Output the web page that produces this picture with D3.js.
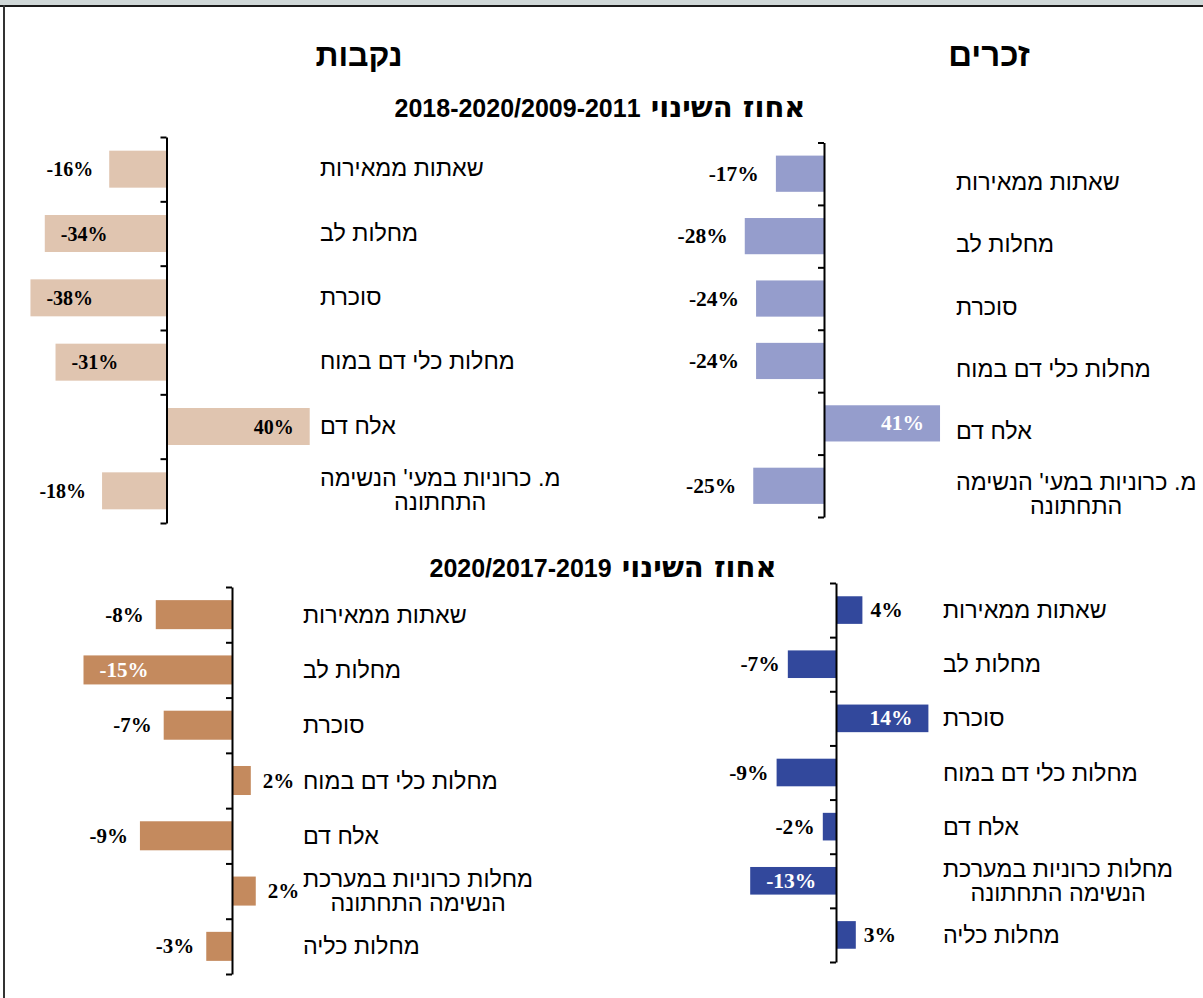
<!DOCTYPE html>
<html>
<head>
<meta charset="utf-8">
<script src="https://cdn.jsdelivr.net/npm/d3@7"></script>
<style>
  html, body { margin: 0; padding: 0; background: #fff; }
  svg { display: block; }
</style>
</head>
<body>
<svg id="chart" width="1203" height="998"></svg>
<script>
// ---------------- DATA ----------------
const titleFemales = "נקבות";
const titleMales = "זכרים";
const subtitleTopText = "אחוז השינוי";
const subtitleTopYears = "2018-2020/2009-2011";
const subtitleBottomText = "אחוז השינוי";
const subtitleBottomYears = "2020/2017-2019";

const categoriesTop = [
  "שאתות ממאירות",
  "מחלות לב",
  "סוכרת",
  "מחלות כלי דם במוח",
  "אלח דם",
  "מ. כרוניות במעי' הנשימה\nהתחתונה"
];
const categoriesBottom = [
  "שאתות ממאירות",
  "מחלות לב",
  "סוכרת",
  "מחלות כלי דם במוח",
  "אלח דם",
  "מחלות כרוניות במערכת\nהנשימה התחתונה",
  "מחלות כליה"
];

// percent change
const femalesTop = [-16, -34, -38, -31, 40, -18];
const malesTop = [-17, -28, -24, -24, 41, -25];
const femalesBottom = [-7.7, -15, -6.9, 1.9, -9.3, 2.4, -2.6];
const malesBottom = [4, -7.3, 14, -9, -2, -13, 3];

// ---------------- LAYOUT ----------------
const svg = d3.select("#chart");
const hebFont = "'Liberation Sans', Arial, 'DejaVu Sans', sans-serif";
const hebTitleFont = "'DejaVu Sans', 'Liberation Sans', sans-serif";
const numFont = "'Liberation Serif', 'Times New Roman', serif";

// frame
svg.append("rect").attr("x", 0).attr("y", 0).attr("width", 1203).attr("height", 5).attr("fill", "#d0d8d8");
svg.append("rect").attr("x", 0).attr("y", 5).attr("width", 1203).attr("height", 2).attr("fill", "#1a1a1a");
svg.append("rect").attr("x", 3).attr("y", 5).attr("width", 2).attr("height", 993).attr("fill", "#333");

// titles
function title(txt, x, y, size) {
  svg.append("text")
    .attr("x", x).attr("y", y)
    .attr("text-anchor", "middle")
    .attr("direction", "rtl")
    .attr("font-family", hebFont)
    .attr("font-weight", "bold")
    .attr("font-size", size)
    .attr("fill", "#000")
    .text(txt);
}
title(titleFemales, 359, 66, 32);
title(titleMales, 989, 66, 33);

function subtitle(heb, years, cx, y) {
  const t = svg.append("text")
    .attr("x", cx).attr("y", y)
    .attr("text-anchor", "middle")
    .attr("direction", "rtl")
    .attr("font-weight", "bold")
    .attr("fill", "#000");
  t.append("tspan").attr("font-family", hebTitleFont).attr("font-size", 29).text(heb + " ");
  t.append("tspan").attr("font-family", hebFont).attr("font-size", 25).text(years);
}
subtitle(subtitleTopText, subtitleTopYears, 600, 117);
subtitle(subtitleBottomText, subtitleBottomYears, 603, 577);

const panels = [
  { cats: categoriesTop, values: femalesTop, color: "#e0c5b0", axisX: 166.5, k: 3.58,
    y0: 137, y1: 523, pad: 0.425, labelX: 320, labelDy: -1, gap: 16, inside: 25, insideColor: "#000", vsize: 20 },
  { cats: categoriesTop, values: malesTop, color: "#959dcc", axisX: 824, k: 2.83,
    y0: 142.5, y1: 517, pad: 0.42, labelX: 956, labelDy: 8, gap: 17, inside: 30, insideColor: "#fff", vsize: 21.5 },
  { cats: categoriesBottom, values: femalesBottom, color: "#c48a5e", axisX: 232, k: 9.9,
    y0: 587, y1: 974, pad: 0.475, labelX: 303, labelDy: 0, gap: 12, inside: 12, insideColor: "#fff", vsize: 21 },
  { cats: categoriesBottom, values: malesBottom, color: "#32489c", axisX: 836, k: 6.6,
    y0: 583, y1: 962, pad: 0.49, labelX: 943, labelDy: 0, gap: 8, inside: 12, insideColor: "#fff", vsize: 21.5 }
];

panels.forEach(p => {
  const g = svg.append("g");
  const x = d3.scaleLinear().domain([-50, 50]).range([p.axisX - 50 * p.k, p.axisX + 50 * p.k]);
  const y = d3.scaleBand().domain(p.cats).range([p.y0, p.y1]).paddingInner(p.pad).paddingOuter(p.pad / 2);
  const n = p.cats.length;
  const yTick = d3.scaleLinear().domain([0, n]).range([p.y0, p.y1]);

  const data = p.cats.map((c, i) => ({ c, v: p.values[i] }));

  // bars
  g.selectAll("rect.bar").data(data).join("rect")
    .attr("class", "bar")
    .attr("x", d => x(Math.min(0, d.v)))
    .attr("width", d => Math.abs(x(d.v) - x(0)))
    .attr("y", d => y(d.c))
    .attr("height", y.bandwidth())
    .attr("fill", p.color);

  // axis
  const axis = d3.axisLeft(yTick).tickValues(d3.range(n + 1)).tickSize(6).tickSizeOuter(0).tickFormat("");
  const ag = g.append("g").attr("transform", `translate(${p.axisX},0)`).call(axis);
  ag.select(".domain").attr("stroke", "#000").attr("stroke-width", 2);
  ag.selectAll(".tick line").attr("stroke", "#000").attr("stroke-width", 2);

  // value labels
  g.selectAll("text.val").data(data).join("text")
    .attr("class", "val")
    .attr("font-family", numFont)
    .attr("font-weight", "bold")
    .attr("font-size", p.vsize)
    .attr("y", d => y(d.c) + y.bandwidth() / 2 + 7)
    .each(function (d) {
      const t = d3.select(this);
      const isIn = Math.abs(d.v) >= p.inside;
      const end = x(d.v);
      let xx, anchor;
      if (d.v < 0) {
        if (isIn) { xx = end + 16; anchor = "start"; } else { xx = end - p.gap; anchor = "end"; }
      } else {
        if (isIn) { xx = end - 16; anchor = "end"; } else { xx = end + p.gap; anchor = "start"; }
      }
      t.attr("x", xx).attr("text-anchor", anchor).attr("fill", isIn ? p.insideColor : "#000");
    })
    .text(d => Math.round(d.v) + "%");

  // category labels
  data.forEach(d => {
    const lines = d.c.split("\n");
    const cy = y(d.c) + y.bandwidth() / 2 + p.labelDy;
    const lh = 24.5;
    const t = g.append("text")
      .attr("font-family", hebFont)
      .attr("font-size", 23.3)
      .attr("fill", "#000")
      .attr("direction", "rtl")
      .attr("text-anchor", "middle");
    const tsp = lines.map((ln, i) => t.append("tspan").text(ln));
    const widths = tsp.map(s => s.node().getComputedTextLength());
    const w = d3.max(widths);
    const cx = p.labelX + w / 2;
    tsp.forEach((s, i) => {
      s.attr("x", cx).attr("y", cy + 8 + (i - (lines.length - 1) / 2) * lh);
    });
  });
});
</script>
</body>
</html>
